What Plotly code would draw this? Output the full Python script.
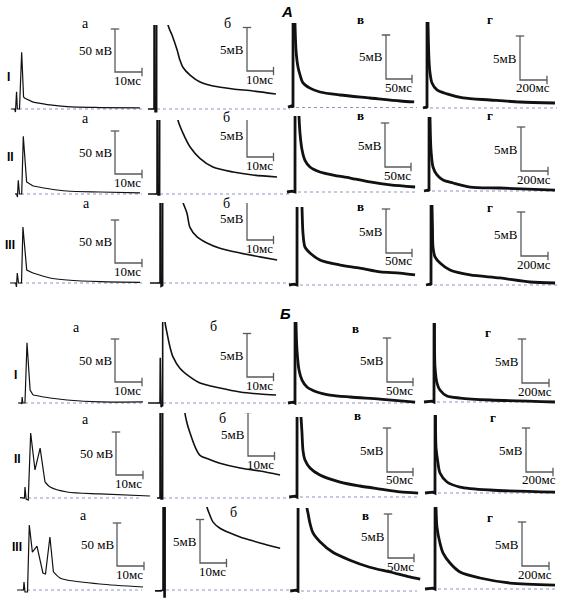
import plotly.graph_objects as go

W, H = 567, 604

# ---------------- data: time (ms) and membrane potential (mV) ----------------
# Section A
A1a_t = [-1.9, -0.5, -0.2, 0.2, 0.5, 1.3, 2.1, 2.8, 3.3, 6.3, 12.6, 18.9, 31.1, 45.9]
A1a_v = [0, 0, -3.5, 20, 0, 0, 66, 14, 12.5, 8, 4.7, 2.7, 1.7, 1.2]
A1b_t = [-2.3, -0.75, 0, 0.1, 0.4, 1.0, 1.1, 5.1, 5.3, 6.8, 8.7, 9.8, 10.9, 13.6, 17.4, 22.3, 29.8, 37.4, 46.0]
A1b_v = [0, 0.05, 0, 40, -0.3, -0.3, 80, 12, 9.65, 8.5, 6.8, 5.6, 4.8, 3.9, 3.1, 2.64, 2.3, 2.07, 1.72]
A1c_t = [-9.6, -1.9, 0, 0.3, 3.0, 3.8, 5.8, 9.6, 13.5, 19.2, 32.7, 51.9, 90.4, 148, 206, 233]
A1c_v = [0.05, 0.2, 0, 30, 12, 9.6, 6.5, 4.6, 3.7, 2.8, 2.2, 1.76, 1.42, 1.08, 0.74, 0.63]
A1d_t = [-30, -7, 0, 1, 5, 7.4, 14.8, 22.2, 37, 74, 148, 267, 467, 689, 948]
A1d_v = [0, 0.1, 0, 30, 12, 9.7, 5.45, 4.0, 2.84, 2.05, 1.6, 1.14, 0.91, 0.68, 0.57]

A2a_t = [-1.1, -0.5, -0.2, 0.1, 0.55, 1.37, 1.96, 3.2, 5.6, 11.9, 18.1, 30.4, 45.2]
A2a_v = [0, 0, -3.5, 16, 0, 0, 67, 14, 9.3, 5.8, 3.5, 2.3, 1.2]
A2b_t = [-3.4, -0.75, 0, 0.1, 0.4, 1.0, 1.13, 7.6, 7.9, 9.8, 12.5, 16.2, 21.1, 28.7, 36.2, 45.3]
A2b_v = [0, 0, 0, 30, -0.1, -0.1, 80, 10, 8.5, 7.0, 5.4, 4.1, 3.1, 2.53, 2.18, 1.95]
A2c_t = [-15.4, -5.8, 0, 0.4, 6.5, 7.7, 9.6, 13.5, 19.2, 28.8, 48, 73, 106, 144, 183, 231]
A2c_v = [0, 0.1, 0, 30, 11, 8.64, 6.7, 4.8, 3.6, 2.84, 2.27, 1.93, 1.59, 1.14, 0.8, 0.57]
A2d_t = [-37, -7.4, 0, 2, 5, 7.4, 14.8, 29.6, 59, 104, 178, 304, 526, 933]
A2d_v = [0, 0.1, 0, 30, 12, 8.4, 4.66, 2.73, 1.82, 1.25, 0.91, 0.45, 0.34, 0.11]

A3a_t = [-2.6, -0.5, -0.2, 0.1, 0.55, 1.67, 2.2, 3.6, 5.9, 12.2, 18.5, 31, 45.6]
A3a_v = [0, 0, -4.6, 11.6, 0, 0, 65, 15, 11.6, 5.8, 3.5, 1.5, 0.8]
A3b_t = [-3.8, -0.75, 0, 0.1, 0.4, 1.0, 1.13, 8.4, 8.7, 10.2, 11.3, 14, 17.7, 22.6, 30.2, 37.7, 44.2]
A3b_v = [0, 0, 0, 30, -0.4, -0.3, 80, 11, 9.2, 8.0, 6.4, 5.3, 4.6, 4.0, 3.45, 3.0, 2.64]
A3c_t = [-15.4, -5.8, 0, 0.4, 8.5, 9.6, 11.5, 15.4, 25, 44, 83, 121, 160, 198, 227]
A3c_v = [0, 0.1, 0, 30, 11, 8.86, 5.9, 4.3, 3.64, 2.84, 2.27, 1.93, 1.48, 1.36, 1.14]
A3d_t = [-37, -7.4, 0, 2, 5, 7.4, 11, 14.8, 29.6, 67, 141, 289, 511, 733, 919]
A3d_v = [0, 0.1, 0, 30, 12, 9.1, 6.6, 4.3, 3.2, 2.5, 1.7, 1.14, 0.8, 0.34, 0.23]

# Section Б
B1a_t = [-1.5, -0.3, -0.1, 0.05, 0.3, 1.1, 1.85, 2.6, 3.0, 4.1, 10.4, 16.7, 28.9, 44.8]
B1a_v = [0, 0, -1.2, 7, 0, 0, 70, 27, 15, 9.3, 5.8, 3.5, 1.2, 1.2]
B1b_t = [-4.5, -0.75, 0, 0.1, 0.4, 1.0, 1.13, 1.7, 1.9, 2.64, 3.8, 4.9, 7.5, 11.3, 15.1, 22.6, 30.2, 37.7, 43.8]
B1b_v = [0, 0, 0, 5.2, -0.46, -0.3, 80, 12, 9.3, 8.05, 6.4, 5.3, 4.0, 3.0, 2.3, 1.72, 1.26, 1.03, 0.92]
B1c_t = [-13.5, -3.8, 0, 0.4, 1.5, 1.9, 3.8, 7.7, 13.5, 23, 42, 67, 106, 163, 231]
B1c_v = [0, 0.1, 0, 30, 12, 9.2, 6.0, 3.75, 2.6, 1.82, 1.25, 0.9, 0.68, 0.45, 0.11]
B1d_t = [-74, -15, 0, 1, 2.5, 3.7, 7.4, 22, 44, 96, 193, 415, 896]
B1d_v = [0, 0.1, 0, 30, 12, 9.0, 4.0, 2.16, 1.36, 0.68, 0.45, 0.23, 0]

B2a_t = [-1.85, -0.2, 0, 0.4, 1.2, 2.1, 3.7, 5.6, 7.4, 9.3, 15.6, 27.8, 46.3]
B2a_v = [0.5, 0, 12.8, -1.2, -2.3, 75.6, 32.6, 58, 18.6, 12.8, 7, 4.7, 2.3]
B2b_t = [-1.1, 0, 0.1, 0.4, 1.0, 1.13, 9.2, 9.4, 10.2, 11.3, 13.2, 15.1, 18.9, 22.6, 30.2, 37.7, 45.3]
B2b_v = [0, 0, 30, -0.1, -0.1, 80, 11.5, 9.77, 8.6, 7.5, 5.9, 4.9, 4.4, 4.0, 3.45, 3.1, 2.64]
B2c_t = [-15, -3.8, 0, 0.4, 6, 7.7, 9.6, 11.5, 15.4, 25, 44, 83, 121, 160, 198, 233]
B2c_v = [0, 0.1, 0, 30, 11, 9.1, 7.3, 5.3, 4.2, 3.3, 2.5, 1.7, 1.25, 0.9, 0.57, 0.45]
B2d_t = [-74, -15, 0, 2, 3, 3.7, 7.4, 22, 37, 89, 185, 407, 889]
B2d_v = [0, 0.1, 0, 30, 12, 8.86, 5.2, 3.4, 2.27, 1.25, 0.68, 0.34, 0.11]

B3a_t = [-2.6, -0.2, 0, 0.37, 1.3, 1.96, 3.1, 4.8, 7.0, 7.96, 9.6, 10.9, 13.3, 15.9, 28.1, 44.1]
B3a_v = [0, 0, 9.3, -2.3, -2.3, 75.6, 44, 51, 19.8, 18.6, 61.6, 21, 14, 11.6, 7, 3.5]
B3b_t = [-3, -0.75, 0, 0.1, 0.4, 0.8, 0.9, 16.3, 16.6, 17.7, 18.9, 21.5, 25.3, 29.1, 32.8, 36.6, 44.2]
B3b_v = [-0.1, -0.1, 0, 30, -0.8, -0.8, 80, 11.5, 9.54, 8.6, 7.8, 7.1, 6.55, 6.1, 5.75, 5.4, 4.8]
B3c_t = [-15, -3.8, 0, 0.4, 16, 17.3, 19.2, 23, 28.8, 42.3, 67, 100, 138, 177, 215, 235]
B3c_v = [0, 0.1, 0, 30, 12, 9.43, 8.86, 7.7, 6.6, 5.6, 4.4, 3.5, 2.7, 2.16, 1.6, 1.36]
B3d_t = [-74, -15, 0, 2, 5, 7.4, 14.8, 37, 59, 111, 185, 333, 556, 889]
B3d_v = [0, 0.1, 0, 30, 12, 9.3, 7.0, 5.2, 4.1, 2.95, 1.93, 1.25, 0.68, 0.45]

# scale bars per column (а, б, в, г)
col_letters = ["а", "б", "в", "г"]
bar_mV = [50, 5, 5, 5]
bar_ms = [10, 10, 50, 200]
bar_mV_text = ["50 мВ", "5мВ", "5мВ", "5мВ"]
bar_ms_text = ["10мс", "10мс", "50мс", "200мс"]
row_labels = ["I", "II", "III"]
section_labels = ["А", "Б"]

series = {
    "A1a": (A1a_t, A1a_v), "A1b": (A1b_t, A1b_v), "A1c": (A1c_t, A1c_v), "A1d": (A1d_t, A1d_v),
    "A2a": (A2a_t, A2a_v), "A2b": (A2b_t, A2b_v), "A2c": (A2c_t, A2c_v), "A2d": (A2d_t, A2d_v),
    "A3a": (A3a_t, A3a_v), "A3b": (A3b_t, A3b_v), "A3c": (A3c_t, A3c_v), "A3d": (A3d_t, A3d_v),
    "B1a": (B1a_t, B1a_v), "B1b": (B1b_t, B1b_v), "B1c": (B1c_t, B1c_v), "B1d": (B1d_t, B1d_v),
    "B2a": (B2a_t, B2a_v), "B2b": (B2b_t, B2b_v), "B2c": (B2c_t, B2c_v), "B2d": (B2d_t, B2d_v),
    "B3a": (B3a_t, B3a_v), "B3b": (B3b_t, B3b_v), "B3c": (B3c_t, B3c_v), "B3d": (B3d_t, B3d_v),
}

# ---------------- layout (pixels) ----------------
COLS = {
    "a": dict(i=0, sx=2.7, sy=0.86, L=4, R=152, end=142, lw=1.2),
    "b": dict(i=1, sx=2.65, sy=8.7, L=146, R=292, end=290, lw=1.6),
    "c": dict(i=2, sx=0.52, sy=8.8, L=285, R=421, end=417, lw=2.8),
    "d": dict(i=3, sx=0.135, sy=8.8, L=421, R=562, end=557, lw=2.8),
}
# panel: stimulus x, baseline y, clip top y, scale-bar corner (x, y), letter position (x, y)
PANELS = {
    "A1a": (16, 109, 18, (115, 72), (85, 23)),
    "A1b": (154, 109, 25, (247, 71), (227, 23)),
    "A1c": (293, 107.5, 23, (386, 79), (360, 20)),
    "A1d": (427, 108, 22, (520, 80), (490, 20)),
    "A2a": (18, 194, 110, (115, 174), (85, 118)),
    "A2b": (157, 194, 120, (247, 157), (226, 117)),
    "A2c": (295, 192, 116, (385, 167), (360, 115)),
    "A2d": (429, 191, 117, (521, 171), (490, 116)),
    "A3a": (17, 283, 198, (115, 263), (86, 203)),
    "A3b": (160, 283, 203, (247, 240), (226, 203)),
    "A3c": (297, 285, 207, (386, 253), (360, 206)),
    "A3d": (431, 285, 205, (521, 256), (490, 207)),
    "B1a": (22, 403, 318, (115, 382), (76, 327)),
    "B1b": (160, 403, 322, (247, 377), (213, 326)),
    "B1c": (295, 403, 322, (387, 382), (355, 329)),
    "B1d": (434, 402, 323, (522, 383), (488, 332)),
    "B2a": (25, 498, 408, (116, 475), (85, 419)),
    "B2b": (160, 498, 413, (248, 456), (222, 418)),
    "B2c": (297, 497, 417, (387, 472), (357, 415)),
    "B2d": (435, 493, 415, (526, 472), (493, 417)),
    "B3a": (24, 590, 503, (117, 566), (83, 515)),
    "B3b": (163, 590, 507, (200, 563), (233, 512)),
    "B3c": (298, 591, 508, (388, 558), (365, 515)),
    "B3d": (435, 589, 507, (522, 566), (490, 517)),
}
ROW_LABEL_POS = {"A1": (8, 77), "A2": (10, 157), "A3": (10, 245),
                 "B1": (15, 375), "B2": (17, 459), "B3": (17, 547)}
SECTION_POS = [(287, 12), (285, 313)]

TRACE_COLOR = "#111111"
BAR_COLOR = "#5a5a5a"
BASE_COLOR = "#8f93c4"
SERIF = "Liberation Serif"
SANS = "Liberation Sans"

fig = go.Figure()
layout_axes = {}
annotations = []


def px(x, y):
    return x / W, 1 - y / H


for n, (key, (ox, by, top, corner, letter_pos)) in enumerate(PANELS.items(), start=1):
    col = COLS[key[2]]
    ci = col["i"]
    sx, sy = col["sx"], col["sy"]
    L, R = col["L"], col["R"]
    bottom = by + 8
    xr = [(L - ox) / sx, (R - ox) / sx]
    yr = [(by - bottom) / sy, (by - top) / sy]
    sfx = "" if n == 1 else str(n)
    layout_axes["xaxis" + sfx] = dict(domain=[L / W, R / W], range=xr, visible=False,
                                      fixedrange=True, anchor="y" + sfx)
    layout_axes["yaxis" + sfx] = dict(domain=[1 - bottom / H, 1 - top / H], range=yr,
                                      visible=False, fixedrange=True, anchor="x" + sfx)
    xref, yref = "x" + sfx, "y" + sfx

    # dotted baseline (resting potential)
    fig.add_trace(go.Scatter(x=[-3 / sx, (col["end"] - ox) / sx], y=[0, 0],
                             mode="lines", line=dict(color=BASE_COLOR, width=1, dash="dot"),
                             xaxis=xref, yaxis=yref, hoverinfo="skip", showlegend=False))
    # recording: stimulus/spike part drawn straight, slow decay drawn smooth
    t, v = series[key]
    if ci == 0:
        split = len(t) - 5
    else:
        split = max(i for i, val in enumerate(v) if val > yr[1])
    fig.add_trace(go.Scatter(x=t[:split + 1], y=v[:split + 1], mode="lines",
                             line=dict(color=TRACE_COLOR, width=col["lw"]),
                             xaxis=xref, yaxis=yref, showlegend=False))
    fig.add_trace(go.Scatter(x=t[split:], y=v[split:], mode="lines",
                             line=dict(color=TRACE_COLOR, width=col["lw"],
                                       shape="spline", smoothing=0.8),
                             xaxis=xref, yaxis=yref, showlegend=False))
    # scale bar
    cx, cy = corner
    bt0 = (cx - ox) / sx
    bv0 = (by - cy) / sy
    fig.add_trace(go.Scatter(x=[bt0, bt0, bt0 + bar_ms[ci]],
                             y=[bv0 + bar_mV[ci], bv0, bv0],
                             mode="lines", line=dict(color=BAR_COLOR, width=1.3),
                             xaxis=xref, yaxis=yref, hoverinfo="skip", showlegend=False))
    fig.add_trace(go.Scatter(x=[bt0, bt0 + bar_ms[ci]], y=[bv0 + bar_mV[ci], bv0],
                             mode="markers",
                             marker=dict(symbol=["line-ew", "line-ns"], size=6,
                                         line=dict(color=BAR_COLOR, width=1.3)),
                             xaxis=xref, yaxis=yref, hoverinfo="skip", showlegend=False))
    bar_h_px = bar_mV[ci] * sy
    bar_w_px = bar_ms[ci] * sx
    ax_, ay_ = px(cx - 1, cy - bar_h_px / 2)
    annotations.append(dict(x=ax_, y=ay_, xref="paper", yref="paper", text=bar_mV_text[ci],
                            showarrow=False, xanchor="right", yanchor="middle",
                            font=dict(family=SERIF, size=13, color="#000")))
    ax_, ay_ = px(cx + bar_w_px / 2 - 1, cy + 8)
    annotations.append(dict(x=ax_, y=ay_, xref="paper", yref="paper", text=bar_ms_text[ci],
                            showarrow=False, xanchor="center", yanchor="middle",
                            font=dict(family=SERIF, size=13, color="#000")))
    lx, ly = px(*letter_pos)
    letter = col_letters[ci] if ci < 2 else "<b>" + col_letters[ci] + "</b>"
    annotations.append(dict(x=lx, y=ly, xref="paper", yref="paper", text=letter,
                            showarrow=False, xanchor="center", yanchor="middle",
                            font=dict(family=SERIF, size=14 if ci < 2 else 13, color="#000")))

for k, (x, y) in ROW_LABEL_POS.items():
    lx, ly = px(x, y)
    annotations.append(dict(x=lx, y=ly, xref="paper", yref="paper",
                            text="<b>" + row_labels[int(k[1]) - 1] + "</b>",
                            showarrow=False, xanchor="center", yanchor="middle",
                            font=dict(family=SANS, size=12, color="#000")))
for lab, (x, y) in zip(section_labels, SECTION_POS):
    lx, ly = px(x, y)
    annotations.append(dict(x=lx, y=ly, xref="paper", yref="paper",
                            text="<b><i>" + lab + "</i></b>",
                            showarrow=False, xanchor="center", yanchor="middle",
                            font=dict(family=SANS, size=15, color="#000")))

fig.update_layout(width=W, height=H, margin=dict(l=0, r=0, t=0, b=0),
                  paper_bgcolor="white", plot_bgcolor="rgba(0,0,0,0)",
                  annotations=annotations, **layout_axes)

fig.write_html("out.html", config={"displayModeBar": False},
               post_script="document.body.style.margin='0px';document.body.style.overflow='hidden';")
